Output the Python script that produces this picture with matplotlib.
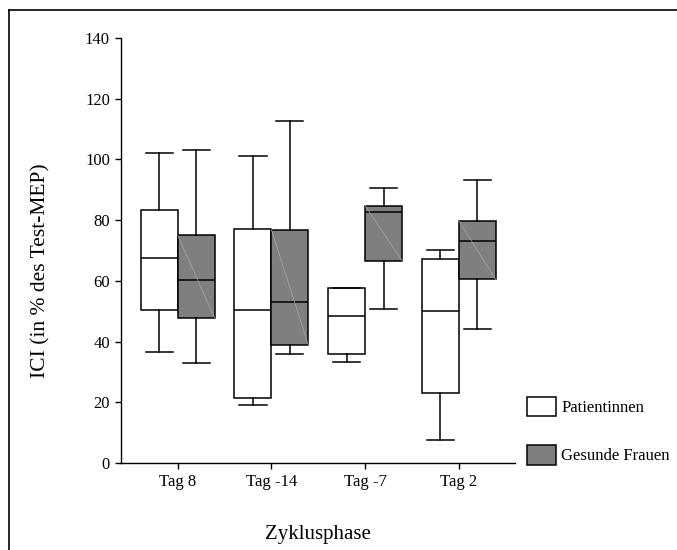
import numpy as np
import matplotlib
matplotlib.use("Agg")
import matplotlib.pyplot as plt
from matplotlib.lines import Line2D
from matplotlib.patches import Patch

plt.rcParams["font.family"] = ["Liberation Serif", "DejaVu Serif"]

categories = ["Tag 8", "Tag -14", "Tag -7", "Tag 2"]

# Patientinnen (white boxes)
pat_whislo = [36.5, 19.1, 33.2, 7.5]
pat_q1 = [50.3, 21.5, 36.0, 23.0]
pat_med = [67.6, 50.3, 48.3, 50.2]
pat_q3 = [83.5, 77.2, 57.7, 67.1]
pat_whishi = [102.2, 101.0, 57.7, 70.3]

# Gesunde Frauen (grey boxes)
ges_whislo = [32.8, 36.0, 50.6, 44.0]
ges_q1 = [47.8, 38.9, 66.7, 60.5]
ges_med = [60.4, 52.9, 82.6, 73.2]
ges_q3 = [75.0, 76.9, 84.8, 79.8]
ges_whishi = [103.2, 112.7, 90.6, 93.3]

yticks = [0, 20, 40, 60, 80, 100, 120, 140]


def make_stats(lo, q1, med, q3, hi):
    return [dict(whislo=a, q1=b, med=c, q3=d, whishi=e, fliers=[])
            for a, b, c, d, e in zip(lo, q1, med, q3, hi)]


W, H = 677, 550
fig = plt.figure(figsize=(W / 100, H / 100), dpi=100)
ax = fig.add_axes([121 / W, 1 - 463 / H, (515 - 121) / W, (463 - 38) / H])

x = np.arange(1, len(categories) + 1)
off = 0.197
bw = 0.394
cw = 0.29
lw = 1.1

box_kw = dict(widths=bw, capwidths=cw, patch_artist=True, showfliers=False,
              medianprops=dict(color="black", lw=lw),
              whiskerprops=dict(color="black", lw=lw),
              capprops=dict(color="black", lw=lw),
              manage_ticks=False)

ax.bxp(make_stats(pat_whislo, pat_q1, pat_med, pat_q3, pat_whishi),
       positions=x - off,
       boxprops=dict(facecolor="white", edgecolor="black", lw=lw),
       **box_kw)
ax.bxp(make_stats(ges_whislo, ges_q1, ges_med, ges_q3, ges_whishi),
       positions=x + off,
       boxprops=dict(facecolor="#7f7f7f", edgecolor="black", lw=lw),
       **box_kw)

# faint diagonal streak inside the grey boxes
for xi, lo, hi in zip(x + off, ges_q1, ges_q3):
    ax.plot([xi - bw / 2, xi + bw / 2], [hi, lo], color="#a8a8a8",
            lw=0.5, zorder=3)

ax.set_xlim(0.395, 4.6)
ax.set_ylim(0, 140)
ax.set_xticks(x)
ax.set_xticklabels(categories, fontsize=12)
ax.set_yticks(yticks)
ax.set_yticklabels([str(t) for t in yticks], fontsize=12)
ax.tick_params(direction="out", length=4, width=1, color="black", pad=4)
for s in ["top", "right"]:
    ax.spines[s].set_visible(False)
for s in ["left", "bottom"]:
    ax.spines[s].set_linewidth(1)

ax.set_xlabel("Zyklusphase", fontsize=15, labelpad=25)
fig.text(41 / W, 1 - 271 / H, "ICI (in % des Test-MEP)", fontsize=15.5,
         rotation=90, ha="center", va="center")

handles = [Patch(facecolor="white", edgecolor="black", lw=lw),
           Patch(facecolor="#7f7f7f", edgecolor="black", lw=lw)]
fig.legend(handles, ["Patientinnen", "Gesunde Frauen"],
           loc="upper left", bbox_to_anchor=(527 / W, 1 - 397 / H),
           frameon=False, fontsize=12, borderpad=0, borderaxespad=0,
           handlelength=1.75, handleheight=1.4, labelspacing=1.74,
           handletextpad=0.3)

# outer frame (left and top lines)
fig.add_artist(Line2D([9 / W, 9 / W], [0, 1 - 10 / H], color="black",
                      lw=1.2, transform=fig.transFigure))
fig.add_artist(Line2D([9 / W, 1], [1 - 10 / H, 1 - 10 / H], color="black",
                      lw=1.2, transform=fig.transFigure))

fig.savefig("out.png", dpi=100)
